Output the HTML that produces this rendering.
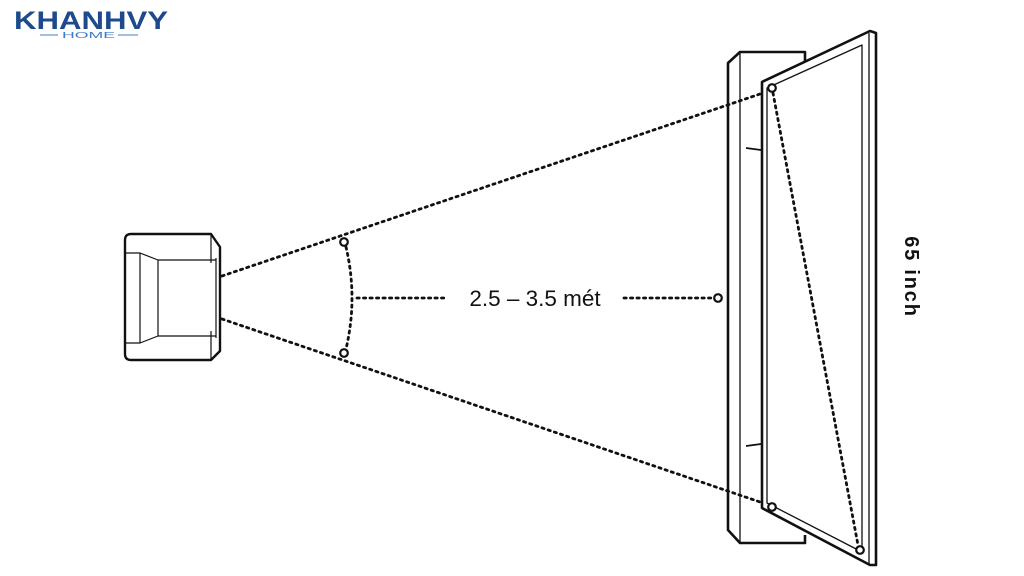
<!DOCTYPE html>
<html><head><meta charset="utf-8"><style>
html,body{margin:0;padding:0;background:#fff;width:1024px;height:576px;overflow:hidden}
svg{display:block}
</style></head><body>
<svg width="1024" height="576" viewBox="0 0 1024 576" xmlns="http://www.w3.org/2000/svg">
<!-- logo -->
<text x="14" y="29" font-family="Liberation Sans, sans-serif" font-weight="900" font-size="25" fill="#1d4a8c" textLength="154" lengthAdjust="spacingAndGlyphs">KHANHVY</text>
<line x1="40" y1="35" x2="58" y2="35" stroke="#3d7cc9" stroke-width="1"/>
<line x1="118" y1="35" x2="138" y2="35" stroke="#3d7cc9" stroke-width="1"/>
<text x="62" y="38" font-family="Liberation Sans, sans-serif" font-size="8" fill="#3d7cc9" textLength="53" lengthAdjust="spacingAndGlyphs">HOME</text>

<g fill="none" stroke="#111" stroke-linejoin="round">
<!-- chair -->
<path d="M131,234 H211 L220,247 V351 L211,360 H131 Q125,360 125,354 V240 Q125,234 131,234 Z" stroke-width="2.4"/>
<path d="M125,253 H140 L158,260 H216 M125,343 H140 L158,336 H216 M140,253 V343 M158,260 V336 M211,234 V263 M211,331 V360 M216,258 V338" stroke-width="1.2"/>
<!-- dotted lines -->
<g stroke-dasharray="2.2 4.3" stroke-width="2.8" stroke-linecap="round">
<line x1="222" y1="276" x2="763" y2="93"/>
<line x1="222" y1="319" x2="763" y2="503"/>
<path d="M346,247 Q358,298 346,349"/>
<line x1="357" y1="298" x2="445" y2="298"/>
<line x1="624" y1="298" x2="712" y2="298"/>
<line x1="773" y1="93" x2="858" y2="545"/>
</g>
<circle cx="344" cy="242" r="3.8" stroke-width="2.2"/>
<circle cx="344" cy="353" r="3.8" stroke-width="2.2"/>
<circle cx="718" cy="298" r="3.8" stroke-width="2.2"/>
<!-- wall stand -->
<path d="M762,82 L805,62 V52 H740 L728,63 V530 L740,543 H805 V535" stroke-width="2.6"/>
<line x1="740" y1="52" x2="740" y2="543" stroke-width="1.3"/>
<path d="M746,148 L761,150 M746,446 L761,444" stroke-width="1.8"/>
<!-- TV -->
<path d="M762,82 L870,31 L876,33 V565 L870,565 L762,508 Z" fill="#fff" stroke-width="2.6"/>
<path d="M767,88 L862,45 V552 L767,503 Z" stroke-width="1.3"/>
<line x1="869" y1="33" x2="869" y2="565" stroke-width="1.3"/>
<g stroke-dasharray="2.2 4.3" stroke-width="2.8" stroke-linecap="round">
<line x1="773" y1="93" x2="858" y2="545"/>
</g>
<circle cx="772" cy="88" r="3.8" fill="#fff" stroke-width="2.2"/>
<circle cx="772" cy="507" r="3.8" fill="#fff" stroke-width="2.2"/>
<circle cx="860" cy="550" r="3.8" fill="#fff" stroke-width="2.2"/>
</g>
<text x="535" y="306" text-anchor="middle" font-family="Liberation Sans, sans-serif" font-size="22.5" fill="#111">2.5 – 3.5 mét</text>
<text transform="translate(905,277) rotate(90)" text-anchor="middle" font-family="Liberation Sans, sans-serif" font-weight="bold" font-size="20" letter-spacing="1.8" fill="#111">65 inch</text>
</svg>
</body></html>
